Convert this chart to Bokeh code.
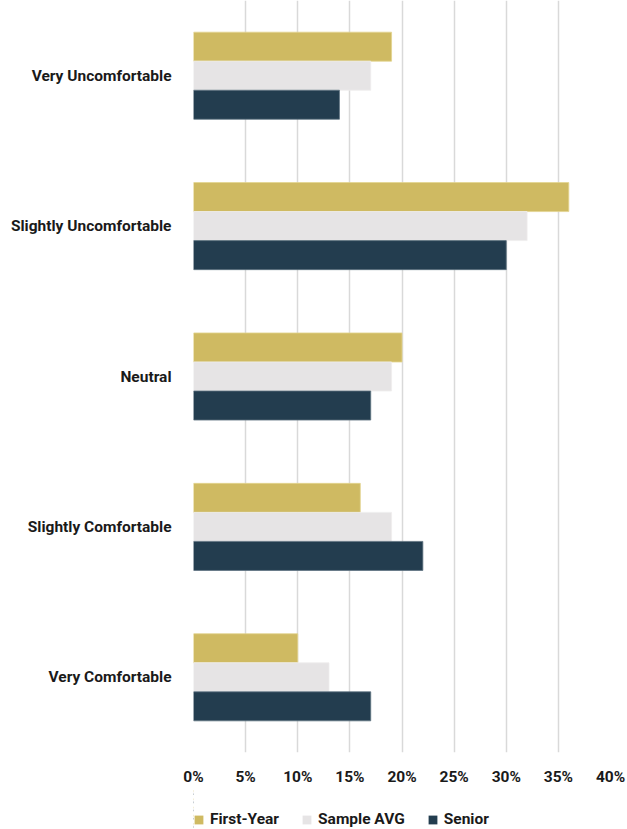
from bokeh.plotting import figure
from bokeh.layouts import column
from bokeh.models import (ColumnDataSource, Legend, LegendItem, NumeralTickFormatter,
                          FixedTicker, Range1d, FactorRange)
from bokeh.transform import dodge
from bokeh.embed import file_html
from bokeh.resources import INLINE

categories = ["Very Comfortable", "Slightly Comfortable", "Neutral",
              "Slightly Uncomfortable", "Very Uncomfortable"]
first_year = [10, 16, 20, 36, 19]
sample_avg = [13, 19, 19, 32, 17]
senior = [17, 22, 17, 30, 14]
series_names = ["First-Year", "Sample AVG", "Senior"]
tick_values = [0, 5, 10, 15, 20, 25, 30, 35, 40]

colors = ["#CFBA62", "#E6E4E5", "#233D4F"]
outlines = ["#E3D48F", "#EFEEEE", "#5E7280"]
FONT = "Roboto"
TXT = "#1A1A1A"

src = ColumnDataSource(dict(cat=categories, fy=first_year, sa=sample_avg, sr=senior))
fields = ["fy", "sa", "sr"]
bh = 0.193
offsets = [bh, 0, -bh]


def add_bars(fig, outline=True):
    rs = []
    for f, off, c, oc in zip(fields, offsets, colors, outlines):
        rs.append(fig.hbar(y=dodge("cat", off, range=fig.y_range), right=f, height=bh,
                           source=src, fill_color=c,
                           line_color=oc if outline else None, line_width=0.8))
    return rs


p = figure(y_range=categories, x_range=(0, 40), frame_width=417, frame_height=752,
           output_backend="svg", toolbar_location=None,
           min_border_left=193, min_border_right=17, min_border_top=0,
           min_border_bottom=0)
add_bars(p)

p.outline_line_color = None
p.ygrid.grid_line_color = None
p.xgrid.grid_line_color = "#D9D9D9"
p.xgrid.grid_line_width = 1.5
p.xaxis.ticker = FixedTicker(ticks=tick_values)
p.xaxis.formatter = NumeralTickFormatter(format="0")
p.xaxis.major_label_overrides = {v: f"{v}%" for v in tick_values}
for ax in (p.xaxis[0], p.yaxis[0]):
    ax.axis_line_color = None
    ax.major_tick_line_color = None
    ax.minor_tick_line_color = None
    ax.major_label_text_font = FONT
    ax.major_label_text_font_style = "bold"
    ax.major_label_text_font_size = "15.5px"
    ax.major_label_text_color = TXT
p.xaxis.major_label_standoff = 9
p.yaxis.major_label_standoff = 16

# legend strip below the chart (its bars lie outside the strip's visible range)
lg = figure(y_range=FactorRange(factors=categories), x_range=Range1d(1000, 1001),
            width=627, height=41, output_backend="svg", toolbar_location=None,
            x_axis_location=None, y_axis_location=None,
            min_border_left=0, min_border_right=0, min_border_top=0, min_border_bottom=0)
lg.outline_line_color = None
lg.grid.grid_line_color = None
lrs = add_bars(lg, outline=False)

legend = Legend(items=[LegendItem(label=n, renderers=[r]) for n, r in zip(series_names, lrs)],
                orientation="horizontal", location=(0, 1),
                label_text_font=FONT, label_text_font_style="bold",
                label_text_font_size="15.5px", label_text_color=TXT,
                glyph_width=11, glyph_height=11, spacing=22, label_standoff=6,
                border_line_color=None, background_fill_alpha=0, padding=0, margin=0)
lg.add_layout(legend, "center")

layout = column(p, lg, spacing=0)
open("out.html", "w").write(file_html(layout, INLINE))
